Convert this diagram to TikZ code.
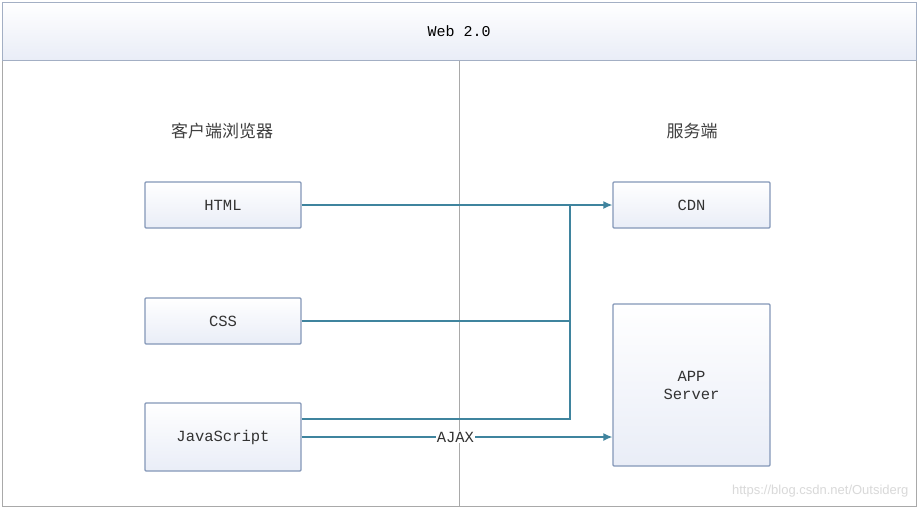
\documentclass[tikz,border=0pt]{standalone}
\usepackage{fontspec}
\setmonofont{Liberation Mono}
\setsansfont{Liberation Sans}
\newfontfamily\cjkfont{Noto Sans CJK SC}
\usetikzlibrary{arrows.meta}
\definecolor{boxline}{HTML}{8497B8}
\definecolor{boxfill}{HTML}{E9EDF7}
\definecolor{linkline}{HTML}{3F849E}
\definecolor{frameline}{HTML}{A9A9A9}
\definecolor{headline}{HTML}{A3AFC4}

\begin{document}
\begin{tikzpicture}[x=1pt,y=-1pt,
box/.style={draw=boxline, line width=1.3pt, top color=white, bottom color=boxfill, rounded corners=1pt, font=\ttfamily\fontsize{15.5}{18}\selectfont, text=black!80, align=center, inner sep=0pt, minimum width=156pt},
header/.style={draw=headline, line width=1pt, top color=white, bottom color=boxfill, font=\ttfamily\fontsize{15}{18}\selectfont, inner sep=0pt},
side/.style={font=\cjkfont\fontsize{17}{20}\selectfont, text=black!75},
link/.style={draw=linkline, line width=1.3pt},
tip/.style={-{Latex[length=9pt,width=8pt]}}
]
\useasboundingbox (0,0) rectangle (918,509);
\fill[white] (0,0) rectangle (918,509);
% frame and title
\node[draw=frameline, line width=1pt, minimum width=914pt, minimum height=504pt, anchor=north west, inner sep=0pt] (frame) at (2,2) {};
\node[header, minimum width=914pt, minimum height=58pt] (head) at (459,31) {Web 2.0};
\draw[frameline, line width=1pt] (head.south) -- (head.south |- frame.south);

% two sides
\node[side] (client) at (222,131) {客户端浏览器};
\node[side] (server) at (692,131) {服务端};

\node[box, minimum height=46pt] (html) at (223,205) {HTML};
\node[box, minimum height=46pt] (css) at (223,321) {CSS};
\node[box, minimum height=68pt] (js) at (223,437) {JavaScript};
\node[box, minimum width=157pt, minimum height=46pt] (cdn) at (691.5,205) {CDN};
\node[box, minimum width=157pt, minimum height=162pt] (app) at (691.5,385) {APP\\Server};

% connectors
\coordinate (bus) at (570,205);
\draw[link, tip] (html) -- (cdn);
\draw[link] (css) -- (css -| bus);
\draw[link] ([yshift=18pt]js.east) -| (bus);
\draw[link, tip] (js) -- node[pos=0.495, fill=white, inner sep=1pt, text=black!80, font=\ttfamily\fontsize{15.5}{18}\selectfont] (ajax) {AJAX} (js -| app.west);

\node[font=\sffamily\fontsize{13}{15}\selectfont, text=black!15, anchor=east] (mark) at (912,491) {https://blog.csdn.net/Outsiderg};
\end{tikzpicture}
\end{document}
